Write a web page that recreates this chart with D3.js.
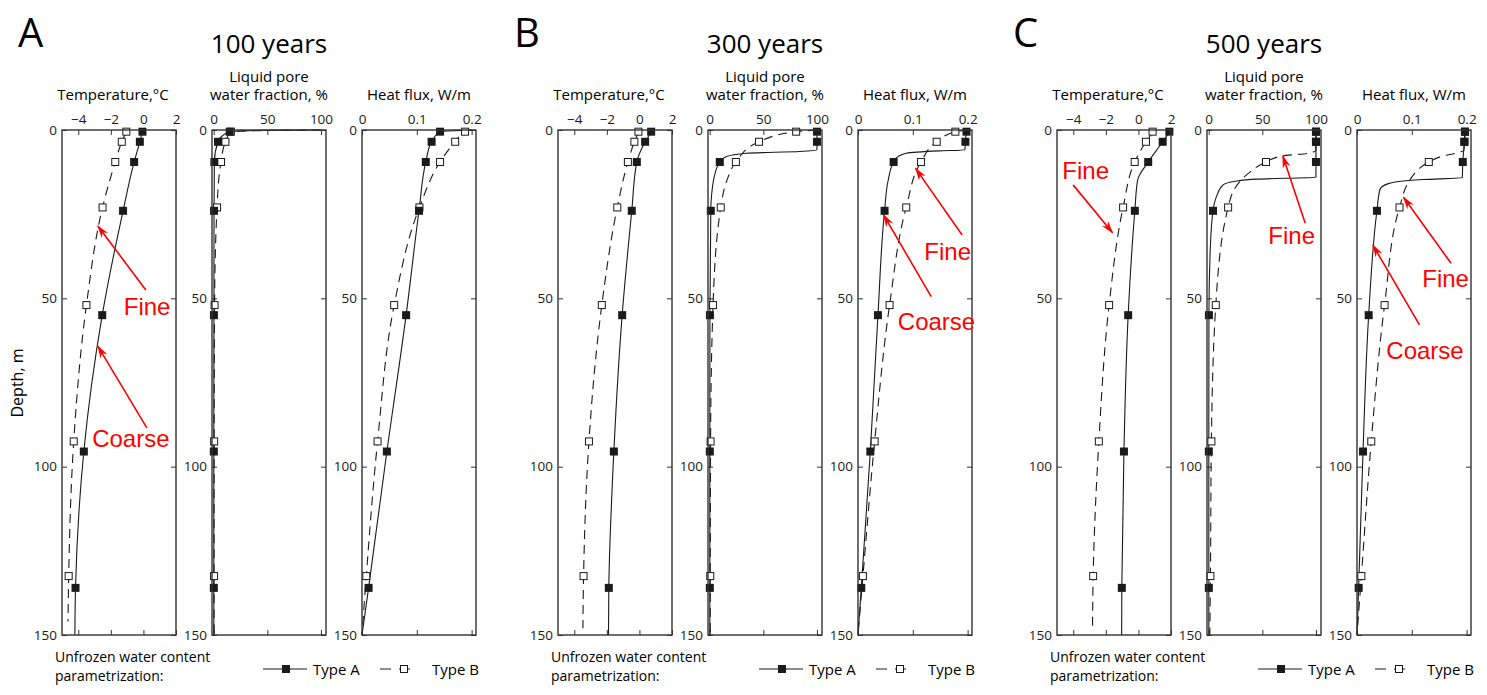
<!DOCTYPE html>
<html>
<head>
<meta charset="utf-8">
<script src="https://cdn.jsdelivr.net/npm/d3@7"></script>
<style>
  body { margin: 0; background: #fff; }
  svg { font-family: "Open Sans", sans-serif; }
</style>
</head>
<body>
<svg id="chart" width="1487" height="695"></svg>
<script>
// panel labels and axis ticks
const letters = ["A", "B", "C"];
const titles = ["100 years", "300 years", "500 years"];
const depthTicks = [0, 50, 100, 150];
const tempTicks = [-4, -2, 0, 2];
const liqTicks = [0, 50, 100];
const fluxTicks = [0, 0.1, 0.2];

// depths (m) where the markers sit
const markDepthA = [0.5, 3.5, 9.5, 24, 55, 95.5, 136];
const markDepthB = [0.5, 3.5, 9.5, 23, 52, 92.5, 132.5];

// profiles as [depth m, value]; A = solid/filled, B = dashed/open
const temp100A = [[0, -0.03], [0.5, -0.06], [3.5, -0.22], [9.5, -0.57], [24, -1.25], [55, -2.53], [95.5, -3.66], [136, -4.17], [150, -4.21]];
const temp100B = [[0, -1.0], [0.5, -1.05], [3.5, -1.33], [9.5, -1.73], [23, -2.51], [52, -3.5], [92.5, -4.28], [132.5, -4.59], [146, -4.63]];
const liq100A = [[0, 100], [0.1, 50], [0.3, 25], [0.5, 14.9], [1.8, 7.8], [3.5, 4.0], [9.5, 0.6], [24, 0.3], [55, 0.2], [95.5, 0.1], [136, 0.1], [150, 0.1]];
const liq100B = [[0, 100], [0.2, 40], [0.5, 16], [3.5, 10.9], [9.5, 6.8], [23, 3.1], [52, 0.8], [92.5, 0.4], [132.5, 0.3], [150, 0.3]];
const flux100A = [[0, 0.2], [0.2, 0.17], [0.5, 0.1424], [3.5, 0.127], [9.5, 0.1164], [24, 0.104], [55, 0.0805], [95.5, 0.0454], [136, 0.012], [150, 0]];
const flux100B = [[0, 0.2], [0.5, 0.188], [3.5, 0.17], [9.5, 0.1424], [23, 0.1048], [52, 0.0587], [92.5, 0.0284], [132.5, 0.0078], [150, 0]];

const temp300A = [[0, 0.75], [0.5, 0.72], [3.5, 0.35], [9.5, -0.16], [24, -0.47], [55, -1.06], [95.5, -1.57], [136, -1.88], [150, -1.9]];
const temp300B = [[0, -0.03], [0.5, -0.06], [3.5, -0.31], [9.5, -0.71], [23, -1.36], [52, -2.31], [92.5, -3.1], [132.5, -3.43], [148, -3.47]];
const liq300A = [[0, 100], [0.5, 100], [3.5, 100], [5.9, 100], [6.4, 84], [6.9, 34], [7.9, 15.6], [9.5, 9.4], [15, 3.5], [24, 1], [55, 0.2], [95.5, 0.1], [136, 0.1], [150, 0.1]];
const liq300B = [[0, 100], [0.5, 80.6], [3.5, 46], [9.5, 24.4], [15, 16], [23, 10.3], [52, 3.1], [92.5, 0.8], [132.5, 0.5], [150, 0.4]];
const flux300A = [[0, 0.2], [0.5, 0.198], [3.5, 0.196], [5.9, 0.195], [6.2, 0.148], [6.9, 0.088], [7.9, 0.073], [9.5, 0.065], [15, 0.055], [24, 0.0485], [55, 0.0364], [95.5, 0.0225], [136, 0.006], [150, 0]];
const flux300B = [[0, 0.2], [0.5, 0.1776], [3.5, 0.1436], [9.5, 0.115], [23, 0.088], [52, 0.0576], [92.5, 0.0304], [132.5, 0.009], [150, 0]];

const temp500A = [[0, 1.95], [0.5, 1.9], [3.5, 1.49], [9.5, 0.6], [14.9, -0.05], [24, -0.22], [55, -0.63], [95.5, -0.89], [136, -1.02], [150, -1.03]];
const temp500B = [[0, 0.9], [0.5, 0.87], [3.5, 0.46], [9.5, -0.23], [23, -0.94], [52, -1.8], [92.5, -2.43], [132.5, -2.78], [148, -2.82]];
const liq500A = [[0, 100], [0.5, 100], [3.5, 100], [9.5, 100], [14.0, 100], [14.6, 45], [15.2, 25], [16.3, 13.4], [19.8, 7.2], [24, 4], [35, 1.5], [55, 0.2], [95.5, 0.1], [136, 0.1], [150, 0.1]];
const liq500B = [[0, 100], [0.5, 100], [3.5, 100], [6.0, 100], [6.9, 93], [7.7, 69], [9.5, 53.4], [12.9, 36.9], [15.3, 29], [23, 18.1], [52, 6.6], [92.5, 2.5], [132.5, 1.6], [150, 1]];
const flux500A = [[0, 0.197], [0.5, 0.197], [3.5, 0.196], [9.5, 0.193], [14.2, 0.192], [14.7, 0.12], [15.2, 0.08], [16.0, 0.056], [17.6, 0.042], [24, 0.0364], [55, 0.0213], [95.5, 0.011], [136, 0.003], [150, 0]];
const flux500B = [[0, 0.197], [0.5, 0.197], [3.5, 0.196], [6.0, 0.195], [6.9, 0.18], [7.6, 0.16], [9.5, 0.131], [11.4, 0.114], [14.7, 0.097], [23, 0.0776], [52, 0.0503], [92.5, 0.026], [132.5, 0.008], [150, 0]];

// red annotations, in data units of their subplot: text at (tv, td), arrow tail (v1, d1) -> head (v2, d2)
const notes = [
  {p: 0, s: 0, text: "Fine",   tv: -1.21, td: 55,   v1: 0.145,  d1: 47.5, v2: -2.80,  d2: 28.5},
  {p: 0, s: 0, text: "Coarse", tv: -3.15, td: 94.1, v1: 0.21,   d1: 88.5, v2: -2.80,  d2: 64.2},
  {p: 1, s: 2, text: "Fine",   tv: 0.121, td: 38.6, v1: 0.19,   d1: 31.2, v2: 0.105,  d2: 11.4},
  {p: 1, s: 2, text: "Coarse", tv: 0.0727, td: 59.4, v1: 0.1335, d1: 49.5, v2: 0.0467, d2: 25.2},
  {p: 2, s: 0, text: "Fine",   tv: -4.67, td: 14.6, v1: -4.01,  d1: 16.3, v2: -1.59,  d2: 30.5},
  {p: 2, s: 1, text: "Fine",   tv: 55.6,  td: 33.9, v1: 90,     d1: 27.7, v2: 69.1,   d2: 7.7},
  {p: 2, s: 2, text: "Fine",   tv: 0.119, td: 46.5, v1: 0.1716, d1: 39.6, v2: 0.0849, d2: 20},
  {p: 2, s: 2, text: "Coarse", tv: 0.0535, td: 68.1, v1: 0.114, d1: 57.9, v2: 0.0291, d2: 34.2}
];

const profiles = [
  [[temp100A, temp100B], [liq100A, liq100B], [flux100A, flux100B]],
  [[temp300A, temp300B], [liq300A, liq300B], [flux300A, flux300B]],
  [[temp500A, temp500B], [liq500A, liq500B], [flux500A, flux500B]]
];

const vars = [
  {domain: [-5, 2], ticks: tempTicks, title: ["Temperature,°C"], shift: -6},
  {domain: [-1.6, 104.7], ticks: liqTicks, title: ["Liquid pore", "water fraction, %"], shift: 0},
  {domain: [0, 0.208], ticks: fluxTicks, title: ["Heat flux, W/m"], shift: 0}
];

const svg = d3.select("#chart");
const panelLeft = [62, 558, 1057];
const subStep = 150, subW = 114;
const plotTop = 130, plotBot = 635;
const ink = "#1a1a1a";
const fmt = d3.format("~g");

const y = d3.scaleLinear().domain([0, 150]).range([plotTop, plotBot]);

svg.append("defs").append("marker")
    .attr("id", "arrow")
    .attr("viewBox", "0 0 13 8")
    .attr("refX", 12).attr("refY", 4)
    .attr("markerWidth", 13).attr("markerHeight", 8)
    .attr("markerUnits", "userSpaceOnUse")
    .attr("orient", "auto")
    .append("path")
    .attr("d", "M0,0 L13,4 L0,8 L4,4 Z")
    .attr("fill", "#ff0000");

let scales = [];

panelLeft.forEach((left, p) => {
    // panel letter and title
    svg.append("text")
        .attr("x", left - 44).attr("y", 47)
        .style("font-size", "40px")
        .text(letters[p]);
    svg.append("text")
        .attr("x", left + subStep + subW / 2).attr("y", 53)
        .attr("text-anchor", "middle")
        .style("font-size", "26px")
        .text(titles[p]);

    scales[p] = [];
    vars.forEach((v, s) => {
        let x0 = left + s * subStep;
        let x = d3.scaleLinear().domain(v.domain).range([x0, x0 + subW]);
        scales[p][s] = x;
        let g = svg.append("g");

        // subplot title
        v.title.forEach((t, i) => {
            g.append("text")
                .attr("x", x0 + subW / 2 + v.shift)
                .attr("y", 100 - (v.title.length - 1 - i) * 18)
                .attr("text-anchor", "middle")
                .style("font-size", "15px")
                .text(t);
        });

        // axes, ticks pointing inward
        let axes = [
            [d3.axisTop(x).tickValues(v.ticks).tickFormat(fmt).tickPadding(6), plotTop, 0],
            [d3.axisBottom(x).tickValues(v.ticks).tickFormat(""), plotBot, 0],
            [d3.axisLeft(y).tickValues(depthTicks).tickFormat(fmt).tickPadding(5), 0, x0],
            [d3.axisRight(y).tickValues(depthTicks).tickFormat(""), 0, x0 + subW]
        ];
        axes.forEach(([ax, ty, tx]) => {
            let a = g.append("g")
                .attr("transform", "translate(" + tx + "," + ty + ")")
                .call(ax.tickSize(-5));
            a.select(".domain").remove();
            a.selectAll("line").attr("stroke", "#333");
            a.selectAll("text")
                .attr("fill", ink)
                .style("font-size", "13.5px")
                .style("font-family", '"Open Sans", sans-serif');
        });

        let line = d3.line()
            .curve(d3.curveMonotoneY)
            .x(d => x(d[1]))
            .y(d => y(d[0]));

        let [serA, serB] = profiles[p][s];

        // type B first so the filled A markers sit on top
        g.append("path")
            .datum(serB)
            .attr("fill", "none")
            .attr("stroke", ink)
            .attr("stroke-width", 1.1)
            .attr("stroke-dasharray", "9,6")
            .attr("d", line);
        g.append("path")
            .datum(serA)
            .attr("fill", "none")
            .attr("stroke", ink)
            .attr("stroke-width", 1.1)
            .attr("d", line);

        g.selectAll(".mB")
            .data(serB.filter(d => markDepthB.includes(d[0])))
            .enter().append("rect")
            .attr("class", "mB")
            .attr("x", d => x(d[1]) - 3.5)
            .attr("y", d => y(d[0]) - 3.5)
            .attr("width", 7).attr("height", 7)
            .attr("fill", "#fff")
            .attr("stroke", ink)
            .attr("stroke-width", 1);
        g.selectAll(".mA")
            .data(serA.filter(d => markDepthA.includes(d[0])))
            .enter().append("rect")
            .attr("class", "mA")
            .attr("x", d => x(d[1]) - 4)
            .attr("y", d => y(d[0]) - 4)
            .attr("width", 8).attr("height", 8)
            .attr("fill", ink);

        // frame
        g.append("rect")
            .attr("x", x0).attr("y", plotTop)
            .attr("width", subW).attr("height", plotBot - plotTop)
            .attr("fill", "none")
            .attr("stroke", "#333")
            .attr("stroke-width", 1.4);
    });

    // legend
    let lg = svg.append("g").attr("transform", "translate(" + left + ",0)");
    lg.append("text")
        .attr("x", -7).attr("y", 662)
        .style("font-size", "14px")
        .text("Unfrozen water content");
    lg.append("text")
        .attr("x", -7).attr("y", 681)
        .style("font-size", "14px")
        .text("parametrization:");
    lg.append("line")
        .attr("x1", 201).attr("x2", 245).attr("y1", 669).attr("y2", 669)
        .attr("stroke", ink).attr("stroke-width", 1.1);
    lg.append("rect")
        .attr("x", 220).attr("y", 665).attr("width", 8).attr("height", 8)
        .attr("fill", ink);
    lg.append("text")
        .attr("x", 251).attr("y", 675)
        .style("font-size", "15px")
        .text("Type A");
    lg.append("line")
        .attr("x1", 318).attr("x2", 355).attr("y1", 669).attr("y2", 669)
        .attr("stroke", ink).attr("stroke-width", 1.1)
        .attr("stroke-dasharray", "11,8");
    lg.append("rect")
        .attr("x", 338.5).attr("y", 665.5).attr("width", 7).attr("height", 7)
        .attr("fill", "#fff").attr("stroke", ink);
    lg.append("text")
        .attr("x", 370).attr("y", 675)
        .style("font-size", "15px")
        .text("Type B");
});

svg.append("text")
    .attr("transform", "translate(23,383) rotate(-90)")
    .attr("text-anchor", "middle")
    .style("font-size", "16px")
    .text("Depth, m");

// red annotations
notes.forEach(n => {
    let x = scales[n.p][n.s];
    svg.append("line")
        .attr("x1", x(n.v1)).attr("y1", y(n.d1))
        .attr("x2", x(n.v2)).attr("y2", y(n.d2))
        .attr("stroke", "#ff0000")
        .attr("stroke-width", 1.6)
        .attr("marker-end", "url(#arrow)");
    svg.append("text")
        .attr("x", x(n.tv)).attr("y", y(n.td))
        .attr("fill", "#ff0000")
        .style("font-family", '"Liberation Sans", Arial, sans-serif')
        .style("font-size", "24px")
        .text(n.text);
});
</script>
</body>
</html>
